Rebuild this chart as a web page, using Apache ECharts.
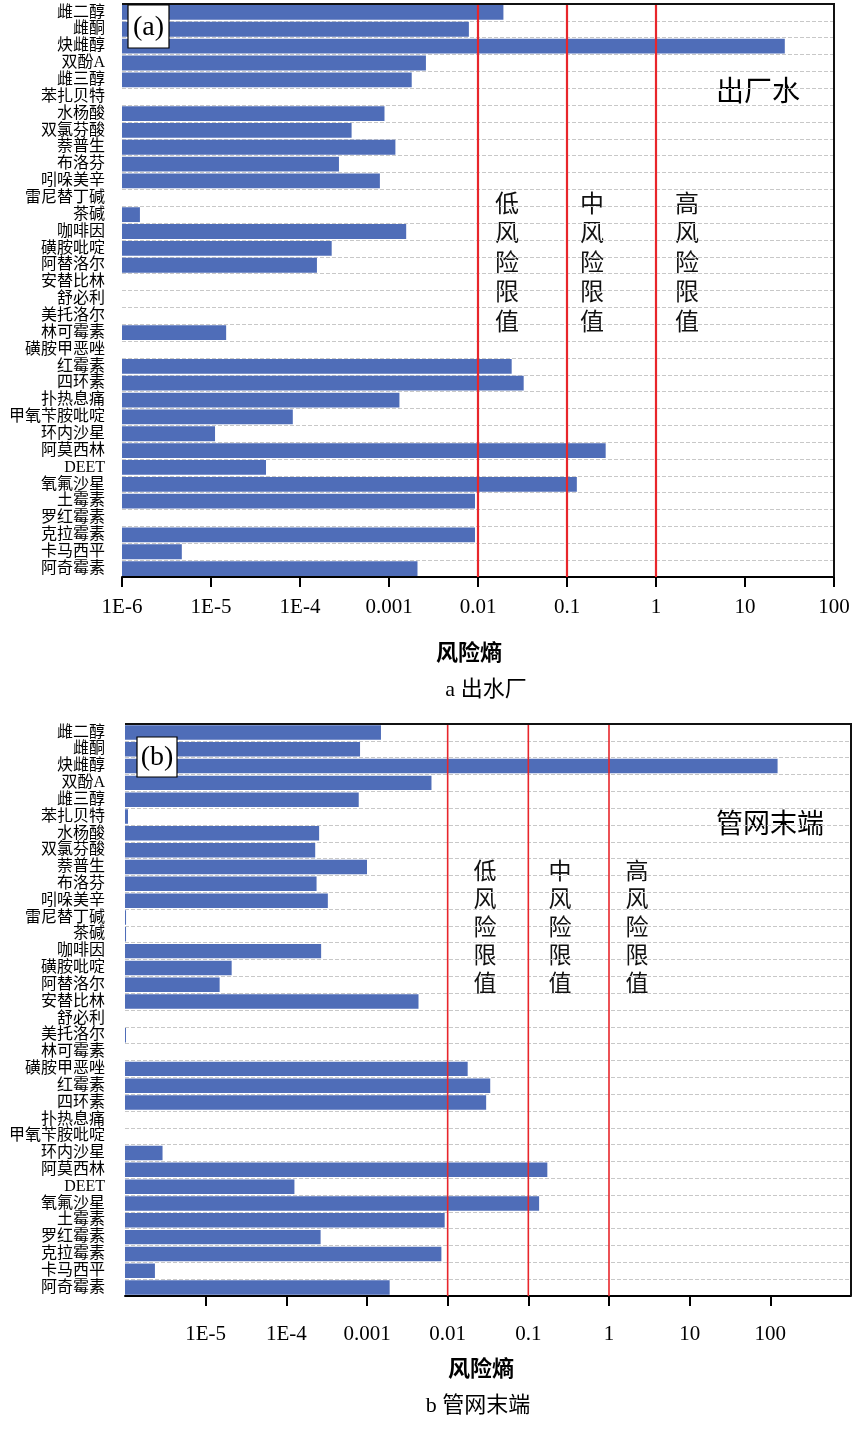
<!DOCTYPE html>
<html>
<head>
<meta charset="utf-8">
<title>风险熵</title>
<script src="https://cdn.jsdelivr.net/npm/echarts@6/dist/echarts.min.js"></script>
<style>
  html, body { margin: 0; padding: 0; background: #fff; }
  #riskChart { width: 865px; height: 1439px; }
</style>
</head>
<body>
<div id="riskChart"></div>
<script>
// 化合物（自上而下）
var compounds = ['雌二醇', '雌酮', '炔雌醇', '双酚A', '雌三醇', '苯扎贝特', '水杨酸', '双氯芬酸',
  '萘普生', '布洛芬', '吲哚美辛', '雷尼替丁碱', '茶碱', '咖啡因', '磺胺吡啶', '阿替洛尔',
  '安替比林', '舒必利', '美托洛尔', '林可霉素', '磺胺甲恶唑', '红霉素', '四环素', '扑热息痛',
  '甲氧苄胺吡啶', '环内沙星', '阿莫西林', 'DEET', '氧氟沙星', '土霉素', '罗红霉素', '克拉霉素',
  '卡马西平', '阿奇霉素']

// 出水厂风险熵 (null = 无柱)
var plantRisk = [0.0193, 0.0079, 28, 0.0026, 0.0018, null, 0.00089, 0.00038,
  0.00118, 0.000274, 0.00079, null, 1.59e-6, 0.00156, 0.000227, 0.000155,
  null, null, null, 1.48e-5, null, 0.0239, 0.0326, 0.00131,
  8.3e-5, 1.11e-5, 0.272, 4.15e-5, 0.129, 0.00925, null, 0.00925,
  4.7e-6, 0.00209]

// 管网末端风险熵
var tapRisk = [0.00149, 0.00082, 123, 0.0063, 0.00079, 1.09e-6, 0.000255, 0.000228,
  0.001, 0.000237, 0.000327, 1.03e-6, 1.03e-6, 0.00027, 2.1e-5, 1.49e-5,
  0.00435, null, 1.02e-6, null, 0.0177, 0.0337, 0.030, null,
  null, 2.92e-6, 0.172, 0.000126, 0.136, 0.00918, 0.000266, 0.00836,
  2.35e-6, 0.00191]

// 刻度标签，从 1E-6 开始每个数量级一个
var tickLabelsA = ['1E-6', '1E-5', '1E-4', '0.001', '0.01', '0.1', '1', '10', '100']
var tickLabelsB = ['', '1E-5', '1E-4', '0.001', '0.01', '0.1', '1', '10', '100', '']
// 图 b 只在内部数量级画刻度
var tickValuesB = [1e-5, 1e-4, 1e-3, 1e-2, 1e-1, 1, 10, 100]

var thresholds = [0.01, 0.1, 1]
var thresholdNames = ['低风险限值', '中风险限值', '高风险限值']

var X_MIN = 1e-6
var BAR_COLOR = '#4f6db8'
var RED = '#e8262b'
var SERIF = '"Liberation Serif", "Noto Sans CJK SC", serif'
var CJK = '"Noto Sans CJK SC", sans-serif'

var gridA = { left: 122, top: 4, width: 712, height: 573 }
var gridB = { left: 125, top: 724, width: 726, height: 572 }

function barData (values) {
  var out = []
  values.forEach(function (v, i) {
    if (v != null) out.push([v, i])
  })
  return out
}

function tickFormatter (labels) {
  return function (value) {
    var e = Math.round(Math.log(value) / Math.LN10) + 6
    return labels[e] || ''
  }
}

function renderBar (ratio) {
  return function (params, api) {
    var i = api.value(1)
    var end = api.coord([api.value(0), i])
    var start = api.coord([X_MIN, i])
    var h = api.size([1, 1], [1, i])[1] * ratio
    return {
      type: 'rect',
      shape: { x: start[0], y: end[1] - h / 2, width: Math.max(end[0] - start[0], 1), height: h },
      style: { fill: BAR_COLOR }
    }
  }
}

function renderLimit (width) {
  return function (params, api) {
    var x = api.coord([api.value(0), 0])[0]
    var cs = params.coordSys
    return {
      type: 'line',
      shape: { x1: x, y1: cs.y, x2: x, y2: cs.y + cs.height },
      style: { stroke: RED, lineWidth: width }
    }
  }
}

function logAxis (grid, max, labels, margin, nameGap, namePad) {
  return {
    gridIndex: grid,
    type: 'log',
    logBase: 10,
    min: X_MIN,
    max: max,
    position: 'bottom',
    axisLine: { show: true, onZero: false, lineStyle: { color: '#000', width: 2 } },
    axisTick: { show: true, length: 10, lineStyle: { color: '#000', width: 2 } },
    axisLabel: {
      formatter: tickFormatter(labels),
      fontFamily: SERIF,
      fontSize: 21,
      color: '#000',
      margin: margin
    },
    splitLine: { show: false },
    name: '风险熵',
    nameLocation: 'middle',
    nameGap: nameGap,
    nameTextStyle: {
      fontFamily: CJK,
      fontSize: 22,
      fontWeight: 'bold',
      color: '#000',
      padding: [0, namePad, 0, 0]
    }
  }
}

function categoryAxis (grid, margin) {
  return {
    gridIndex: grid,
    type: 'category',
    data: compounds,
    inverse: true,
    axisLine: { show: false },
    axisTick: { show: false },
    axisLabel: {
      interval: 0,
      fontFamily: SERIF,
      fontSize: 16,
      color: '#000',
      margin: margin
    },
    splitLine: {
      show: true,
      interval: 0,
      lineStyle: { type: 'dashed', color: '#c8c8c8', width: 1 }
    }
  }
}

// top and right edges of a plot box (left side stays open)
function frame (g) {
  var r = g.left + g.width
  return {
    type: 'polyline',
    z: 50,
    shape: { points: [[g.left, g.top], [r, g.top], [r, g.top + g.height]] },
    style: { stroke: '#111', lineWidth: 2, fill: null }
  }
}

function limitTexts (xs, top, size, lineHeight) {
  return thresholdNames.map(function (name, k) {
    return {
      type: 'text',
      x: xs[k],
      y: top,
      style: {
        text: name.split('').join('\n'),
        fontFamily: CJK,
        fontSize: size,
        lineHeight: lineHeight,
        fill: '#111',
        textAlign: 'center',
        textVerticalAlign: 'top'
      }
    }
  })
}

function panelTag (x, y, w, h, label) {
  return [
    {
      type: 'rect',
      shape: { x: x, y: y, width: w, height: h },
      style: { fill: '#fff', stroke: '#000', lineWidth: 1.2 },
      z: 100
    },
    {
      type: 'text',
      x: x + w / 2,
      y: y + h / 2 + 1,
      z: 101,
      style: {
        text: label,
        fontFamily: SERIF,
        fontSize: 28,
        fill: '#000',
        textAlign: 'center',
        textVerticalAlign: 'middle'
      }
    }
  ]
}

function plainText (x, y, text, size, family) {
  return {
    type: 'text',
    x: x,
    y: y,
    style: {
      text: text,
      fontFamily: family,
      fontSize: size,
      fill: '#000',
      textAlign: 'center',
      textVerticalAlign: 'middle'
    }
  }
}

function buildOption (useCustomTicks) {
  var axisB = logAxis(1, 1000, tickLabelsB, 28, 61, 14)
  if (useCustomTicks) axisB.axisTick.customValues = tickValuesB
  return {
    animation: false,
    grid: [gridA, gridB],
    xAxis: [
      logAxis(0, 100, tickLabelsA, 20, 64, 18),
      axisB
    ],
    yAxis: [
      categoryAxis(0, 17),
      categoryAxis(1, 20)
    ],
    series: [
      {
        name: '出水厂',
        type: 'custom',
        xAxisIndex: 0,
        yAxisIndex: 0,
        encode: { x: 0, y: 1 },
        renderItem: renderBar(0.88),
        data: barData(plantRisk)
      },
      {
        name: '限值a',
        type: 'custom',
        xAxisIndex: 0,
        yAxisIndex: 0,
        encode: { x: 0, y: 1 },
        renderItem: renderLimit(2.2),
        data: thresholds.map(function (v) { return [v, 0] })
      },
      {
        name: '管网末端',
        type: 'custom',
        xAxisIndex: 1,
        yAxisIndex: 1,
        encode: { x: 0, y: 1 },
        renderItem: renderBar(0.86),
        data: barData(tapRisk)
      },
      {
        name: '限值b',
        type: 'custom',
        xAxisIndex: 1,
        yAxisIndex: 1,
        encode: { x: 0, y: 1 },
        renderItem: renderLimit(1.6),
        data: thresholds.map(function (v) { return [v, 0] })
      }
    ],
    graphic: [].concat(
      [frame(gridA), frame(gridB)],
      panelTag(128, 5, 41, 43, '(a)'),
      panelTag(137, 737, 40, 40, '(b)'),
      limitTexts([507, 592, 687], 188, 24, 29.5),
      limitTexts([485, 560, 637], 856, 23, 28),
      [
        plainText(758, 90, '出厂水', 28, CJK),
        plainText(770, 823, '管网末端', 27, CJK),
        plainText(486, 690, 'a 出水厂', 22, SERIF),
        plainText(478, 1406, 'b 管网末端', 22, SERIF)
      ]
    )
  }
}

var myChart = echarts.init(document.getElementById('riskChart'))
try {
  myChart.setOption(buildOption(true))
} catch (e) {
  // older builds may not take customValues on a log axis
  myChart.dispose()
  myChart = echarts.init(document.getElementById('riskChart'))
  myChart.setOption(buildOption(false))
}
</script>
</body>
</html>
